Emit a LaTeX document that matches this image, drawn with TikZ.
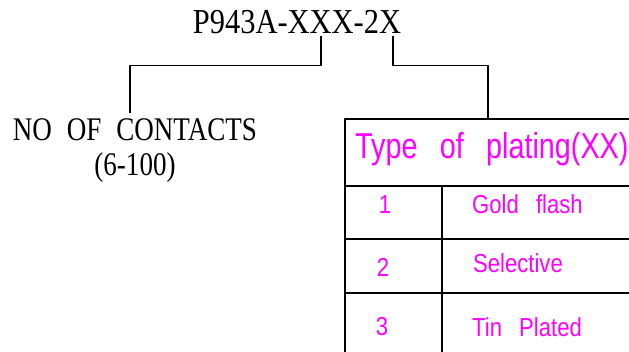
\documentclass[tikz,border=0pt]{standalone}
\usepackage{fontspec}
\setmainfont[WordSpace=2.2]{Liberation Serif}
\newfontfamily\cadfont[WordSpace=1.6]{Liberation Sans}
\newfontfamily\cadhead[WordSpace=2.8]{Liberation Sans}
\definecolor{platecol}{RGB}{255,0,255}
\tikzset{
        partlbl/.style={font=\fontsize{35}{35}\selectfont,xscale=0.87,inner sep=0pt},
        cntlbl/.style={font=\fontsize{33}{35}\selectfont,xscale=0.82,inner sep=0pt},
        cadtxt/.style={text=platecol,inner sep=0pt,font=\cadfont\fontsize{26}{28}\selectfont,xscale=0.85},
        rule/.style={line width=1.6pt,join=round}
}

\begin{document}
\begin{tikzpicture}[x=1pt,y=1pt] % ordering code with plating table
        \useasboundingbox (0,0) rectangle (629,351);
        \node[partlbl] (code) at (297,329) {P943A-XXX-2X};
        \node[cntlbl,align=center] (contacts) at (135,200) {NO OF CONTACTS\\(6-100)};
        \coordinate (tapA) at (321,315);
        \coordinate (tapB) at (393,315);
        \coordinate (contTop) at (130,238);
        \coordinate (tabTop) at (488,232);
        \draw[rule] (tapA)--(321,285.5)--(130,285.5)--(contTop);
        \draw[rule] (tapB)--(393,285.5)--(488,285.5)--(tabTop);
        % table
        \draw[rule] (345,-2)--(345,232)--(632,232);
        \draw[rule] (345,165)--(632,165);
        \draw[rule] (345,112)--(632,112);
        \draw[rule] (345,58)--(632,58);
        \draw[rule] (442,165)--(442,-2);
        \node[cadtxt,anchor=base west,font=\cadhead\fontsize{36}{38}\selectfont,xscale=0.94] (head) at (355,192) {Type of plating(XX)};
        \node[cadtxt] (n1) at (385,146) {1};
        \node[cadtxt,anchor=base west] (t1) at (472,137) {Gold flash};
        \node[cadtxt] (n2) at (383,84) {2};
        \node[cadtxt,anchor=base west] (t2) at (473,78) {Selective};
        \node[cadtxt] (n3) at (382,24) {3};
        \node[cadtxt,anchor=base west] (t3) at (472,15) {Tin Plated};
\end{tikzpicture}
\end{document}
